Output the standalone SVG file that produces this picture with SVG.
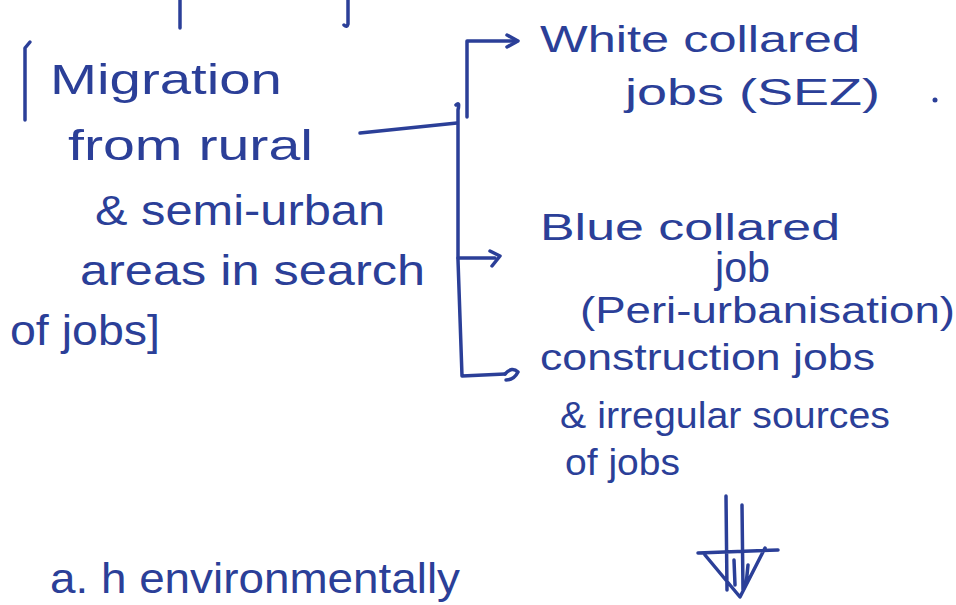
<svg xmlns="http://www.w3.org/2000/svg" width="956" height="605" viewBox="0 0 956 605">
<style>
.t{font-family:"Liberation Sans","DejaVu Sans",sans-serif;font-size:42px;fill:#2b3f98}
.r{font-size:37px}
.s{fill:none;stroke:#2b3f98;stroke-width:3.5;stroke-linecap:round;stroke-linejoin:round}
</style>
<rect width="956" height="605" fill="#ffffff"/>
<g id="connectors">
<path class="s" d="M180,0 L180,28"/>
<path class="s" d="M348,0 L348,24 Q347,28 344,25"/>
<path class="s" d="M360,133 L457,123"/>
<path class="s" d="M456,105 Q460,101 458,110 L458,260 L462,376 L505,374"/>
<path class="s" d="M505,374 Q512,366 518,372 Q514,380 506,380"/>
<path class="s" d="M467,117 L467,41 L517,41"/>
<path class="s" d="M507,35 L518,41 L507,47"/>
<path class="s" d="M458,258 L495,258"/>
<path class="s" d="M490,251 L500,256 L492,266"/>
<path class="s" d="M726,496 L727,590 M742,505 L743,590 M698,553 L778,550 M705,555 L740,597 L765,548 M734,560 L735,585 M748,565 L746,585"/>
</g>
<g id="migration">
<path class="s" d="M25,48 L25,120 M25,48 L30,42"/>
<text class="t" x="50" y="94" textLength="232" lengthAdjust="spacingAndGlyphs">Migration</text>
<text class="t" x="68" y="160" textLength="245" lengthAdjust="spacingAndGlyphs">from rural</text>
<text class="t" x="95" y="225" textLength="290" lengthAdjust="spacingAndGlyphs">&amp; semi-urban</text>
<text class="t" x="80" y="285" textLength="345" lengthAdjust="spacingAndGlyphs">areas in search</text>
<text class="t" x="10" y="345" textLength="150" lengthAdjust="spacingAndGlyphs">of jobs]</text>
</g>
<g id="white-collared">
<text class="t r" x="540" y="52" textLength="320" lengthAdjust="spacingAndGlyphs">White collared</text>
<text class="t r" x="625" y="105" textLength="255" lengthAdjust="spacingAndGlyphs">jobs (SEZ)</text>
<circle cx="935" cy="100" r="2.5" fill="#2b3f98"/>
</g>
<g id="blue-collared">
<text class="t r" x="540" y="240" textLength="300" lengthAdjust="spacingAndGlyphs">Blue collared</text>
<text class="t" x="715" y="282" font-size="26" textLength="55" lengthAdjust="spacingAndGlyphs">job</text>
<text class="t r" x="580" y="323" textLength="375" lengthAdjust="spacingAndGlyphs">(Peri-urbanisation)</text>
</g>
<g id="construction">
<text class="t r" x="540" y="370" textLength="335" lengthAdjust="spacingAndGlyphs">construction jobs</text>
<text class="t r" x="560" y="428" textLength="330" lengthAdjust="spacingAndGlyphs">&amp; irregular sources</text>
<text class="t r" x="565" y="475" textLength="115" lengthAdjust="spacingAndGlyphs">of jobs</text>
</g>
<g id="bottom-note">
<text class="t" x="50" y="593" font-size="26" textLength="410" lengthAdjust="spacingAndGlyphs">a. h   environmentally</text>
</g>
</svg>
